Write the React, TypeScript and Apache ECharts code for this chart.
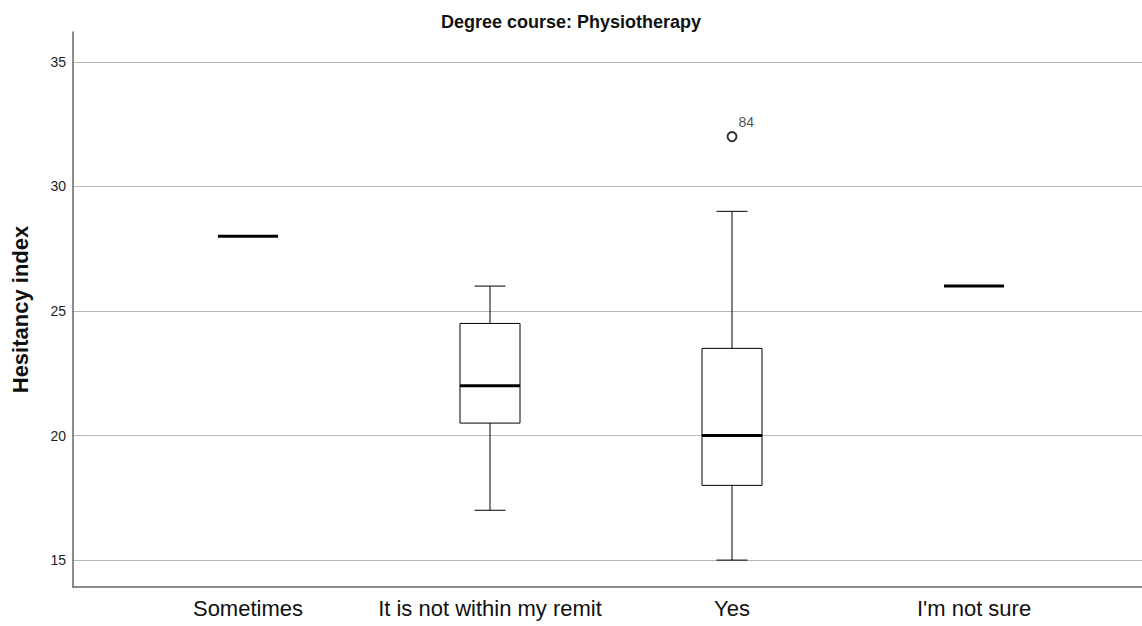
import React, { useEffect, useRef } from "react";
import * as echarts from "echarts";

const categories = ["Sometimes", "It is not within my remit", "Yes", "I'm not sure"];
// [min, Q1, median, Q3, max]
const boxValues: number[][] = [
  [28, 28, 28, 28, 28],
  [17, 20.5, 22, 24.5, 26],
  [15, 18, 20, 23.5, 29],
  [26, 26, 26, 26, 26],
];
const outliers: { cat: number; value: number; id: string }[] = [{ cat: 2, value: 32, id: "84" }];
const yTicks = [15, 20, 25, 30, 35];

export default function App() {
  const ref = useRef<HTMLDivElement>(null);
  useEffect(() => {
    if (!ref.current) return;
    const chart = echarts.init(ref.current, null, { renderer: "svg" });
    const font = "'Liberation Sans', Arial, sans-serif";
    const boxHalf = 0.124;
    const capHalf = 0.064;
    chart.setOption({
      animation: false,
      backgroundColor: "#ffffff",
      title: {
        text: "Degree course: Physiotherapy",
        left: "center",
        top: 8,
        textStyle: { fontFamily: font, fontSize: 18, fontWeight: "bold", color: "#111" },
      },
      grid: { left: 73, right: 0, top: 32, bottom: 39, containLabel: false, outerBoundsMode: "none" },
      xAxis: {
        type: "value",
        min: -0.723,
        max: 3.694,
        axisLine: { show: true, onZero: false, lineStyle: { color: "#666", width: 1.5 } },
        axisTick: { show: false },
        splitLine: { show: false },
        axisLabel: {
          customValues: [0, 1, 2, 3],
          formatter: (v: number) => categories[Math.round(v)] ?? "",
          fontFamily: font,
          fontSize: 22,
          color: "#111",
          margin: 10,
        },
      },
      yAxis: {
        type: "value",
        min: 13.92,
        max: 36.2,
        name: "Hesitancy index",
        nameLocation: "middle",
        nameGap: 42,
        nameTextStyle: { fontFamily: font, fontSize: 22, fontWeight: "bold", color: "#111" },
        axisLine: { show: true, onZero: false, lineStyle: { color: "#666", width: 1.5 } },
        axisTick: { show: false },
        splitLine: { show: false },
        axisLabel: {
          customValues: yTicks,
          fontFamily: font,
          fontSize: 14,
          color: "#222",
          margin: 7,
        },
      },
      series: [
        {
          type: "custom",
          silent: true,
          data: boxValues.map((b, i) => [i, ...b]),
          encode: { x: 0, y: [1, 2, 3, 4, 5] },
          renderItem: (params: any, api: any) => {
            const x = api.value(0);
            const mn = api.value(1), q1 = api.value(2), md = api.value(3), q3 = api.value(4), mx = api.value(5);
            const children: any[] = [];
            const lineStyle = { stroke: "#000", lineWidth: 1 };
            if (mx !== mn) {
              const pMax = api.coord([x, mx]);
              const pQ3 = api.coord([x, q3]);
              const pQ1 = api.coord([x, q1]);
              const pMin = api.coord([x, mn]);
              const capL = api.coord([x - capHalf, mx])[0];
              const capR = api.coord([x + capHalf, mx])[0];
              const bL = api.coord([x - boxHalf, q3])[0];
              const bR = api.coord([x + boxHalf, q3])[0];
              children.push(
                { type: "line", shape: { x1: pMax[0], y1: pMax[1], x2: pQ3[0], y2: pQ3[1] }, style: lineStyle },
                { type: "line", shape: { x1: pQ1[0], y1: pQ1[1], x2: pMin[0], y2: pMin[1] }, style: lineStyle },
                { type: "line", shape: { x1: capL, y1: pMax[1], x2: capR, y2: pMax[1] }, style: lineStyle },
                { type: "line", shape: { x1: capL, y1: pMin[1], x2: capR, y2: pMin[1] }, style: lineStyle },
                {
                  type: "rect",
                  shape: { x: bL, y: pQ3[1], width: bR - bL, height: pQ1[1] - pQ3[1] },
                  style: { fill: "#fff", stroke: "#000", lineWidth: 1 },
                }
              );
            }
            const mL = api.coord([x - boxHalf, md]);
            const mR = api.coord([x + boxHalf, md]);
            children.push({
              type: "line",
              shape: { x1: mL[0], y1: mL[1], x2: mR[0], y2: mR[1] },
              style: { stroke: "#000", lineWidth: 3 },
            });
            return { type: "group", children };
          },
          markLine: {
            silent: true,
            symbol: "none",
            label: { show: false },
            lineStyle: { color: "#b8b8b8", width: 1, type: "solid" },
            data: yTicks.map((v) => ({ yAxis: v })),
            z: 0,
          },
          z: 3,
        },
        {
          type: "scatter",
          silent: true,
          symbol: "emptyCircle",
          symbolSize: 9,
          itemStyle: { color: "#000", borderColor: "#000", borderWidth: 1.2 },
          data: outliers.map((o) => ({ value: [o.cat, o.value], name: o.id })),
          label: {
            show: true,
            formatter: (p: any) => p.name,
            position: [12, -16],
            fontFamily: font,
            fontSize: 14,
            color: "#222",
          },
          z: 4,
        },
      ],
    });
    return () => chart.dispose();
  }, []);
  return (
    <div
      ref={ref}
      style={{ position: "fixed", left: 0, top: 0, width: 1142, height: 626, background: "#fff" }}
    />
  );
}
